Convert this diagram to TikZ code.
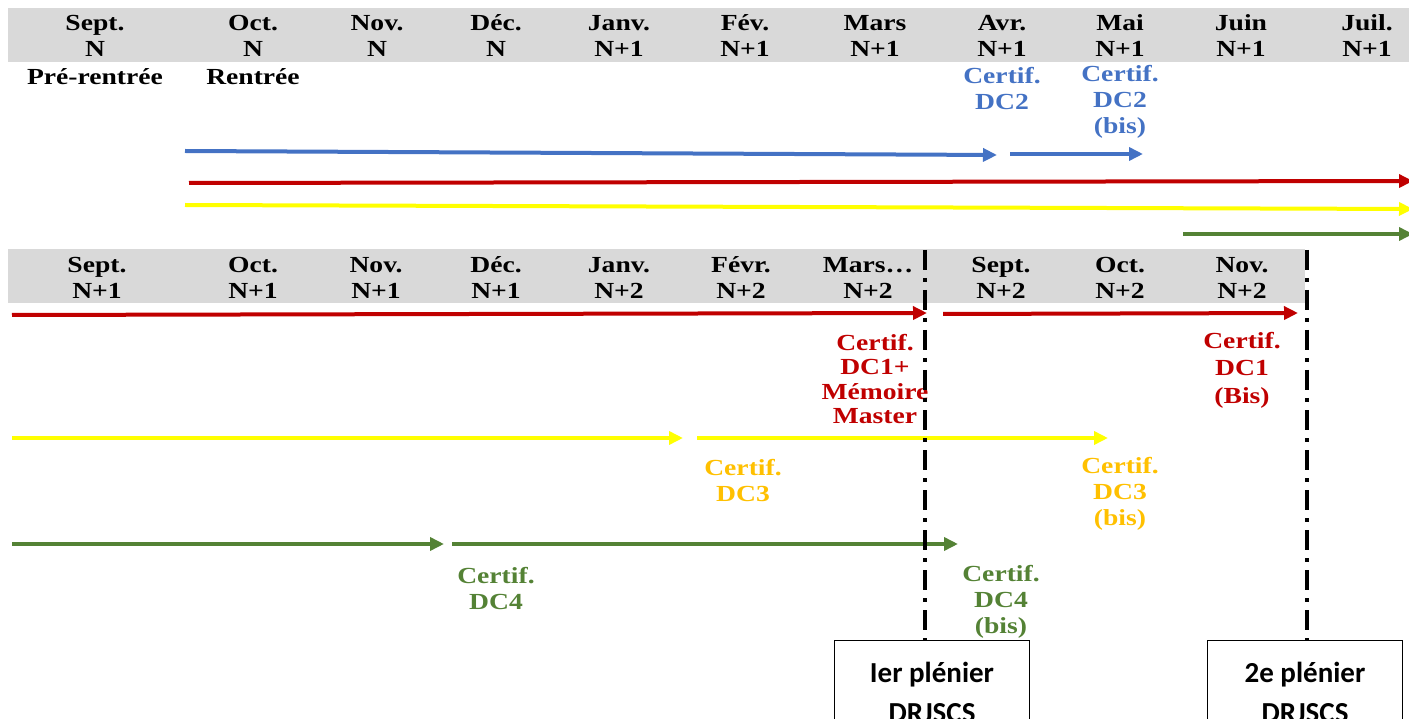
\documentclass[tikz,border=0pt]{standalone}
\usepackage{fontspec}
\newfontfamily\monthfont{Liberation Serif}[FakeStretch=1.2]
\newfontfamily\boxfont{Carlito}
\usepackage{tikz}
\usetikzlibrary{arrows.meta, positioning, calc}

\definecolor{headgray}{HTML}{D9D9D9}
\definecolor{dctwo}{HTML}{4472C4}
\definecolor{dcone}{HTML}{C00000}
\definecolor{dcthree}{HTML}{FFFF00}
\definecolor{dcthreetxt}{HTML}{FFC000}
\definecolor{dcfour}{HTML}{548235}

\begin{document}
\begin{tikzpicture}[
    x=1pt, y=-1pt,
    month/.style={align=center, inner sep=0pt, font=\monthfont\bfseries\fontsize{23}{26}\selectfont},
    certif/.style={month, text=#1},
    track/.style={line width=4pt, draw=#1, -{Triangle[length=14pt,width=13pt]}},
    plenline/.style={line width=4pt, dash pattern=on 20pt off 8pt on 4pt off 8pt},
    plenbox/.style={draw, line width=1pt, minimum width=195pt, minimum height=104pt, anchor=north,
        align=center, font=\boxfont\bfseries\fontsize{29}{40}\selectfont}]
    \clip (0,0) rectangle (1409,719);
    % Header rows
    \fill[headgray] (8,8) rectangle (1409,62);
    \fill[headgray] (8,249) rectangle (1305,303);

    % First year
    \node[month] (sepN) at (95,36) {Sept.\\N};
    \node[month] (octN) at (253,36) {Oct.\\N};
    \node[month] (novN) at (377,36) {Nov.\\N};
    \node[month] (decN) at (496,36) {Déc.\\N};
    \node[month] (janA) at (619,36) {Janv.\\N+1};
    \node[month] (fevA) at (745,36) {Fév.\\N+1};
    \node[month] (marA) at (875,36) {Mars\\N+1};
    \node[month] (avrA) at (1002,36) {Avr.\\N+1};
    \node[month] (maiA) at (1120,36) {Mai\\N+1};
    \node[month] (juiA) at (1241,36) {Juin\\N+1};
    \node[month] (julA) at (1367,36) {Juil.\\N+1};
    \node[month] (prerentree) at (95,77) {Pré-rentrée};
    \node[month] (rentree) at (253,77) {Rentrée};

    \node[certif=dctwo] (dcTwo) at (1002,89) {Certif.\\DC2};
    \node[certif=dctwo] (dcTwoBis) at (1120,102) {Certif.\\DC2\\(bis)};

    \coordinate (blueA) at (185,151);
    \coordinate (blueB) at (997,155);
    \coordinate (blueC) at (1010,154);
    \coordinate (blueD) at (1143,154);
    \coordinate (redA) at (189,183);
    \coordinate (redB) at (1413,181);
    \coordinate (yelA) at (185,205);
    \coordinate (yelB) at (1413,209);
    \coordinate (grnA) at (1183,234);
    \coordinate (grnB) at (1413,234);
    \draw[track=dctwo] (blueA) -- (blueB);
    \draw[track=dctwo] (blueC) -- (blueD);
    \draw[track=dcone] (redA) -- (redB);
    \draw[track=dcthree] (yelA) -- (yelB);
    \draw[track=dcfour] (grnA) -- (grnB);

    % Second year
    \node[month] (sepA) at (97,278) {Sept.\\N+1};
    \node[month] (octA) at (253,278) {Oct.\\N+1};
    \node[month] (novA) at (376,278) {Nov.\\N+1};
    \node[month] (decA) at (496,278) {Déc.\\N+1};
    \node[month] (janB) at (619,278) {Janv.\\N+2};
    \node[month] (fevB) at (741,278) {Févr.\\N+2};
    \node[month] (marB) at (868,278) {Mars…\\N+2};
    \node[month] (sepB) at (1001,278) {Sept.\\N+2};
    \node[month] (octB) at (1120,278) {Oct.\\N+2};
    \node[month] (novB) at (1242,278) {Nov.\\N+2};

    \node[certif=dcone, font=\monthfont\bfseries\fontsize{23}{24.5}\selectfont] (dcOne) at (875,379) {Certif.\\DC1+\\Mémoire\\Master};
    \node[certif=dcone, font=\monthfont\bfseries\fontsize{23}{27.5}\selectfont] (dcOneBis) at (1242,370) {Certif.\\DC1\\(Bis)};
    \node[certif=dcthreetxt] (dcThree) at (743,481) {Certif.\\DC3};
    \node[certif=dcthreetxt] (dcThreeBis) at (1120,494) {Certif.\\DC3\\(bis)};
    \node[certif=dcfour] (dcFour) at (496,589) {Certif.\\DC4};
    \node[certif=dcfour] (dcFourBis) at (1001,602) {Certif.\\DC4\\(bis)};

    \coordinate (redC) at (12,315);
    \coordinate (redD) at (927,313);
    \coordinate (redE) at (943,314);
    \coordinate (redF) at (1298,313);
    \coordinate (yelC) at (12,438);
    \coordinate (yelD) at (683,438);
    \coordinate (yelE) at (697,438);
    \coordinate (yelF) at (1108,438);
    \coordinate (grnC) at (12,544);
    \coordinate (grnD) at (444,544);
    \coordinate (grnE) at (452,544);
    \coordinate (grnF) at (958,544);
    \draw[track=dcone] (redC) -- (redD);
    \draw[track=dcone] (redE) -- (redF);
    \draw[track=dcthree] (yelC) -- (yelD);
    \draw[track=dcthree] (yelE) -- (yelF);
    \draw[track=dcfour] (grnC) -- (grnD);
    \draw[track=dcfour] (grnE) -- (grnF);

    % Plenary sessions
    \node[plenbox] (plenOne) at (932,640) {Ier plénier\\DRJSCS};
    \node[plenbox] (plenTwo) at (1305,640) {2e plénier\\DRJSCS};
    \coordinate (cutOne) at (925,250);
    \coordinate (cutTwo) at (1307,250);
    \draw[plenline] (cutOne) -- (cutOne |- plenOne.north);
    \draw[plenline] (cutTwo) -- (cutTwo |- plenTwo.north);
\end{tikzpicture}
\end{document}
